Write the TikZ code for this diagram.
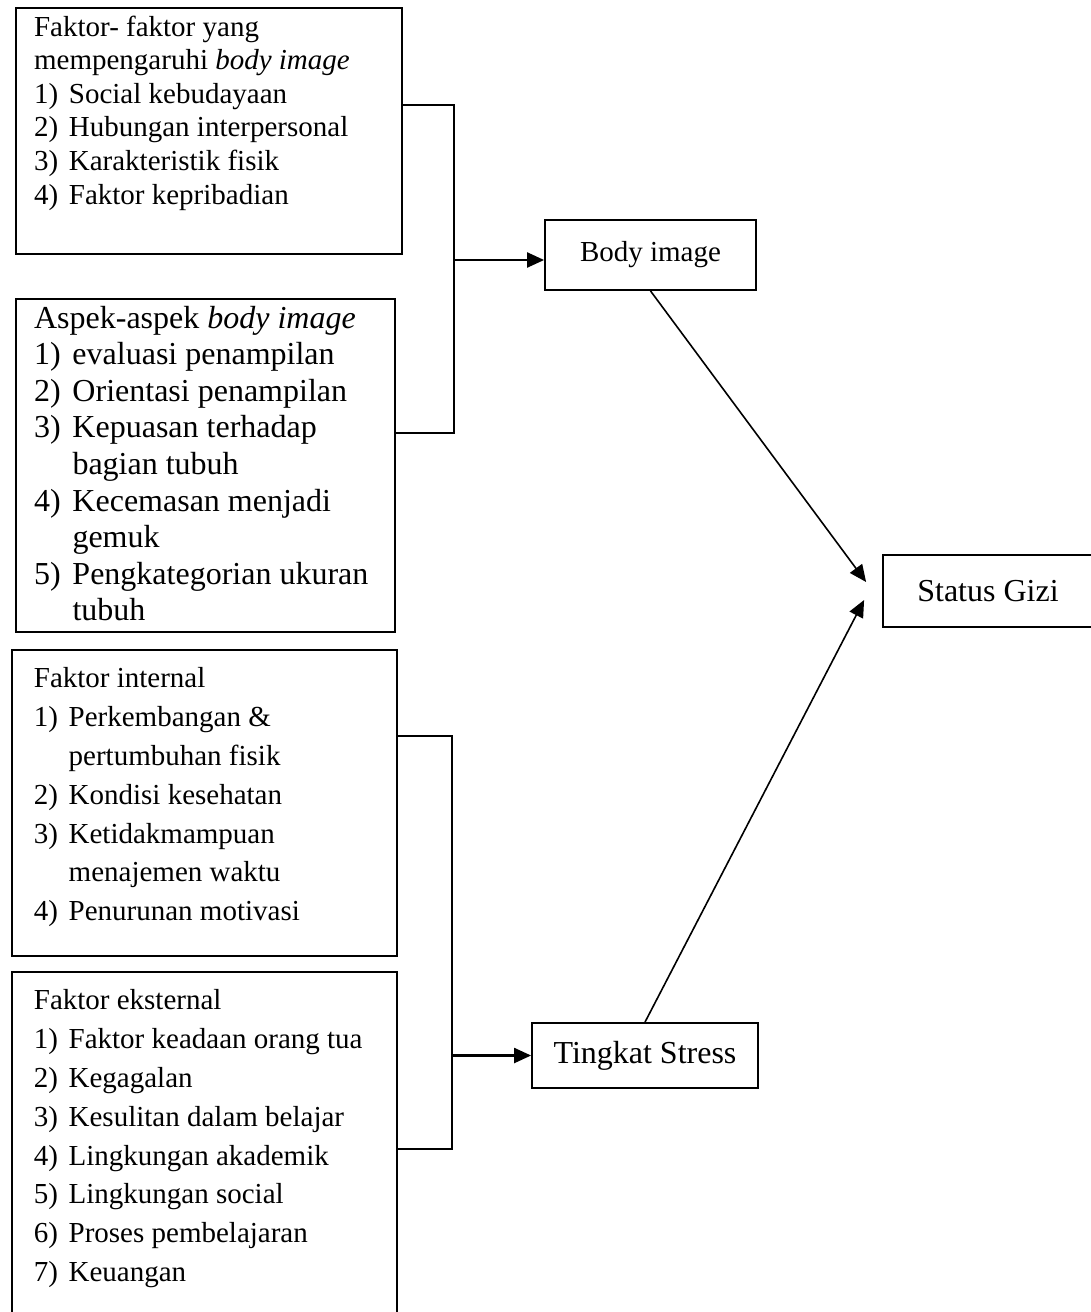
\documentclass[tikz,border=0pt]{standalone}
\usepackage{fontspec}
\setmainfont{Liberation Serif}
\usepackage{tikz}
\usetikzlibrary{positioning}
\usetikzlibrary{arrows.meta,calc}

\newcommand{\itm}[2]{\makebox[1.2em][l]{#1}#2}
\newcommand{\cnt}[1]{\hspace*{1.2em}#1}
% height, width, left pad, first baseline, font, text
\newcommand{\boxtext}[6]{\parbox[t][#1][t]{#2}{#5\raggedright\leftskip=#3\rule{0pt}{#4}#6}}

\begin{document}
\begin{tikzpicture}[x=0.5pt, y=-0.5pt, line width=1.1pt,
  box/.style={draw, inner sep=0pt, anchor=north west},
  lbl/.style={draw, line width=0.9pt, inner sep=2pt},
  arr/.style={-{Triangle[length=8.5pt,width=7.5pt]}}]

 \useasboundingbox (0,0) rectangle (1091,1312);

 % left boxes, body image
 \node[box] (faktor) at (15,7) {\boxtext{123pt}{193pt}{9pt}{14pt}{\fontsize{14.5}{16.8}\selectfont}{%
   Faktor- faktor yang\\
   mempengaruhi \textit{body image}\\
   \itm{1)}{Social kebudayaan}\\
   \itm{2)}{Hubungan interpersonal}\\
   \itm{3)}{Karakteristik fisik}\\
   \itm{4)}{Faktor kepribadian}}};

 \node[box] (aspek) at (15,298) {\boxtext{166.5pt}{189.5pt}{9pt}{14.5pt}{\fontsize{16}{18.3}\selectfont}{%
   Aspek-aspek \textit{body image}\\
   \itm{1)}{evaluasi penampilan}\\
   \itm{2)}{Orientasi penampilan}\\
   \itm{3)}{Kepuasan terhadap}\\
   \cnt{bagian tubuh}\\
   \itm{4)}{Kecemasan menjadi}\\
   \cnt{gemuk}\\
   \itm{5)}{Pengkategorian ukuran}\\
   \cnt{tubuh}}};

 % left boxes, stress
 \node[box, line width=0.9pt] (internal) at (11,649) {\boxtext{153pt}{192.5pt}{11pt}{19pt}{\fontsize{14.5}{19.4}\selectfont}{%
   Faktor internal\\
   \itm{1)}{Perkembangan \&}\\
   \cnt{pertumbuhan fisik}\\
   \itm{2)}{Kondisi kesehatan}\\
   \itm{3)}{Ketidakmampuan}\\
   \cnt{menajemen waktu}\\
   \itm{4)}{Penurunan motivasi}}};

 \node[box, line width=0.9pt] (eksternal) at (11,971) {\boxtext{171pt}{192.5pt}{11pt}{19pt}{\fontsize{14.5}{19.4}\selectfont}{%
   Faktor eksternal\\
   \itm{1)}{Faktor keadaan orang tua}\\
   \itm{2)}{Kegagalan}\\
   \itm{3)}{Kesulitan dalam belajar}\\
   \itm{4)}{Lingkungan akademik}\\
   \itm{5)}{Lingkungan social}\\
   \itm{6)}{Proses pembelajaran}\\
   \itm{7)}{Keuangan}}};

 % middle and right
 \node[lbl, minimum width=105.5pt, minimum height=35pt] (body) at (650.5,255) {\fontsize{14.5}{17}\selectfont Body image};
 \node[lbl, minimum width=113pt, minimum height=32.5pt] (stress) at (645,1055.5) {\fontsize{16}{18}\selectfont Tingkat Stress};
 \node[lbl, minimum width=105pt, minimum height=36pt] (gizi) at (988,591) {\fontsize{16}{18}\selectfont Status Gizi};

 % brackets
 \coordinate (t1) at (454,105);
 \coordinate (t2) at (454,433);
 \coordinate (j1) at (454,260);
 \coordinate (t3) at (452,736);
 \coordinate (t4) at (452,1149);
 \coordinate (j2) at (452,1055.5);

 \draw (faktor.east |- t1) -- (t1) -- (t2) -- (aspek.east |- t2);
 \draw (internal.east |- t3) -- (t3) -- (t4) -- (eksternal.east |- t4);
 \draw[arr] (j1) -- (j1 -| body.west);
 \draw[arr] (j2) -- (stress.west);

 % lines to status gizi
 \draw[arr, line width=0.8pt] (body.south) -- ([xshift=-8pt,yshift=4.5pt]gizi.west);
 \draw[arr, line width=0.8pt] (stress.north) -- ([xshift=-9pt,yshift=-4.5pt]gizi.west);

\end{tikzpicture}
\end{document}
